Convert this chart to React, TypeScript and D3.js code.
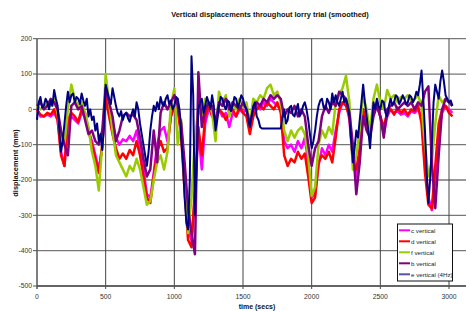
import * as d3 from 'd3'

// c, d, f, b: one sample every 25 s; e (4Hz) read at 12.5 s
const times: number[] = d3.range(0, 3026, 25)
const eTimes: number[] = d3.range(0, 3026, 12.5)

const cVertical: number[] = [
  0, -20, -20, -15, -20, -10, -30, -120, -160, -40,
  -20, -30, -40, -10, -20, -60, -90, -130, -170, -110,
  40, -10, -40, -80, -100, -85, -90, -75, -90, -60,
  -110, -170, -240, -250, -180, -100, -60, -50, -90, -20,
  10, 0, -60, -200, -340, -370, -250, -60, -170, -40,
  0, -10, -40, 0, -20, -10, -50, -10, -20, 0,
  -10, 0, -50, -10, 10, 0, 20, 10, 30, 20,
  10, 0, -90, -110, -100, -120, -90, -110, -80, -150,
  -250, -240, -160, -110, -130, -100, -120, -60, -10, 20,
  20, -30, -150, -190, -120, -10, -30, -60, 0, 10,
  -20, -70, -20, 0, -10, -5, -15, -10, -20, -5,
  -10, 0, -20, -150, -250, -285, -200, -60, -10, 10,
  0, -10,
]

const dVertical: number[] = [
  0, -15, -20, -10, -15, 0, -30, -130, -160, -30,
  -10, -20, -35, 0, -10, -60, -100, -140, -180, -100,
  30, -20, -70, -110, -140, -125, -140, -115, -130, -90,
  -130, -190, -250, -265, -190, -120, -90, -120, -110, -20,
  10, 0, -80, -230, -370, -390, -220, -50, -130, -20,
  10, -20, -30, 0, -10, -30, -10, 0, -20, 10,
  -10, -20, -70, -20, 0, 10, 0, 20, 10, 0,
  20, -10, -130, -160, -140, -150, -120, -140, -125, -190,
  -265, -250, -150, -130, -140, -120, -150, -80, 0, 20,
  10, -20, -140, -170, -110, 0, -40, -60, -10, 20,
  -20, -50, -10, 0, -15, 5, -10, 0, -15, 0,
  -5, 10, -40, -180, -270, -280, -160, -40, 0, 10,
  -10, -20,
]

const fVertical: number[] = [
  10, 0, 5, 20, 10, 30, -10, -90, -100, 0,
  70, 30, 10, 20, -10, -50, -120, -160, -230, -100,
  100, 20, -60, -130, -150, -170, -190, -160, -175, -140,
  -170, -220, -270, -260, -200, -150, -130, -170, -120, 10,
  60, -100, -30, -210, -350, -250, -80, 0, -20, 30,
  20, -10, -90, 50, 20, 40, -20, 20, 0, 30,
  10, 20, -40, 30, 20, 40, 30, 60, 70, 40,
  50, 20, -60, -90, -60, -80, -60, -50, -70, -130,
  -245, -220, -100, -60, -80, -50, -70, 20, 40, 60,
  95, 20, -170, -130, -60, 40, 0, -60, 30, 70,
  20, 0, 55, 30, 40, 20, 35, 30, 40, 25,
  30, 40, 10, -100, -190, -150, -40, 40, 20, 30,
  20, 10,
]

const bVertical: number[] = [
  10, 20, 0, 10, 30, 20, 0, -60, -100, -130,
  10, 20, 0, 10, -30, -70, -60, -90, -100, -60,
  60, 20, -20, -90, -60, -20, -10, -20, -15, -30,
  -80, -140, -190, -170, -60, -150, -10, 20, 0, 20,
  40, 10, -40, -150, -280, -350, -410, 105, -50, 0,
  20, 10, -40, 20, 10, 30, 0, 20, 10, 0,
  20, 0, -40, 0, 20, 10, 30, 20, 40, 30,
  40, 30, -20, 0, -10, 10, -20, 0, -20, -100,
  -160, -110, -90, -20, 10, -10, 20, 10, 50, 40,
  30, -10, -100, -240, -150, -20, -60, -80, -20, 10,
  -20, -80, 0, 10, 20, 0, 10, 20, 10, 20,
  0, 20, 10, 50, 65, -150, -280, -130, 0, 30,
  20, 10,
]

const eVertical: number[] = [
  -30, 20, 35, 5, 10, 30, 20, 0, 25, 10, 55, 30, 10, -60, -120, -90, -40, 10, 50, 20,
  40, 45, 20, 35, 30, 15, 45, 25, 10, 30, -20, 0, -30, -20, -60, -40, -90, -70, -115, -50,
  70, 50, 30, 15, 60, 35, 10, -10, -20, -5, -30, -15, -10, -25, -35, -15, 0, -20, 20, 0,
  -40, -70, -100, -130, -160, -120, -60, -20, 10, -5, 20, 0, 35, 15, 10, 30, 40, 15, 25, 0,
  10, 35, 30, 0, -80, -150, -250, -320, -340, -200, 150, 40, -300, -150, 0, 20, 30, -10, 10, 35,
  20, 0, 40, 10, -60, -30, 10, 35, 30, 10, 0, 25, 20, -5, 10, 35, 30, 5, 20, 40,
  30, 10, 0, -25, -50, -20, 10, 20, -20, -30, -50, -54, -54, -54, -54, -54, -54, -54, -54, -54,
  -54, -54, -54, -20, 0, -40, -30, 5, 10, -15, -20, 0, 15, -20, -10, 10, 20, 0, -30, -70,
  -110, -90, -60, -20, 10, 25, 30, 5, 0, 30, 20, 0, 45, 20, 40, 20, 10, 30, 50, 20,
  30, 10, -20, -90, -150, -110, -60, -80, -30, 20, 70, 20, -20, -60, -110, -40, 20, 0, 30, 10,
  0, 25, 20, -10, -20, 10, 30, 10, 20, 40, 35, 15, 25, 40, 30, 15, 20, 40, 35, 20,
  30, 50, 40, 70, 110, 30, -60, -180, -265, -200, -100, 20, 70, 50, 30, 80, 110, 80, 40, 30,
  20, 25, 10,
]

const seriesNames = ['c vertical', 'd vertical', 'f vertical', 'b vertical', 'e vertical (4Hz)']
const seriesColors = ['#ff00ff', '#ff0000', '#99cc00', '#800080', '#000080']
const seriesValues = [cVertical, dVertical, fVertical, bVertical, eVertical]
const seriesTimes = [times, times, times, times, eTimes]

const xTicks = [0, 500, 1000, 1500, 2000, 2500, 3000]
const yTicks = [200, 100, 0, -100, -200, -300, -400, -500]

const W = 469
const H = 311
const left = 37
const top = 38.7
const bottom = 286
const right = 466
const font = 'Arial, "Liberation Sans", sans-serif'

export default function App() {
  const x = d3.scaleLinear().domain([0, 3000]).range([left, 449])
  const y = d3.scaleLinear().domain([-500, 200]).range([bottom, top])

  const pathFor = (vals: number[], ts: number[]) =>
    d3.line<number>()
      .x((_, i) => x(ts[i]))
      .y(d => y(d))(vals) ?? ''

  return (
    <div style={{ position: 'absolute', left: 0, top: 0 }}>
      <svg width={W} height={H} style={{ display: 'block', background: '#fff' }}>
        <text x={270} y={17} textAnchor='middle' fontFamily={font} fontSize={7.4} fontWeight='bold' fill='#111'>
          Vertical displacements throughout lorry trial (smoothed)
        </text>

        {/* grid */}
        {yTicks.map(t => (
          <line key={'gy' + t} x1={left} x2={right} y1={y(t)} y2={y(t)} stroke='#777' strokeWidth={1.3} />
        ))}
        {xTicks.filter(t => t > 0).map(t => (
          <line key={'gx' + t} x1={x(t)} x2={x(t)} y1={top} y2={bottom + 3} stroke='#444' strokeWidth={1} />
        ))}

        {/* axes */}
        <line x1={left} x2={left} y1={top} y2={bottom + 3} stroke='#555' strokeWidth={1.5} />
        <line x1={left} x2={right} y1={bottom} y2={bottom} stroke='#555' strokeWidth={1.5} />
        {yTicks.map(t => (
          <g key={'ty' + t}>
            <line x1={left - 4} x2={left} y1={y(t)} y2={y(t)} stroke='#555' />
            <text x={32} y={y(t) + 2.4} textAnchor='end' fontFamily={font} fontSize={6.8} fill='#333'>{t}</text>
          </g>
        ))}
        {xTicks.map(t => (
          <text key={'tx' + t} x={x(t)} y={299} textAnchor='middle' fontFamily={font} fontSize={6.8} fill='#333'>{t}</text>
        ))}
        <text x={257} y={309} textAnchor='middle' fontFamily={font} fontSize={7} fontWeight='bold' fill='#111'>time (secs)</text>
        <text transform={`translate(18,163) rotate(-90)`} textAnchor='middle' fontFamily={font} fontSize={7.4} fontWeight='bold' fill='#111'>
          displacement (mm)
        </text>

        {/* series */}
        {seriesValues.map((vals, i) => (
          <path key={seriesNames[i]} d={pathFor(vals, seriesTimes[i])} fill='none' stroke={seriesColors[i]}
            strokeWidth={i === 4 ? 2 : 2.5} strokeLinejoin='round' />
        ))}

        {/* legend */}
        <g>
          <rect x={397.5} y={224} width={55} height={57} fill='#fff' stroke='#111' strokeWidth={1} />
          {seriesNames.map((name, i) => {
            const ly = 230.3 + i * 11
            return (
              <g key={'lg' + name}>
                <line x1={399} x2={410} y1={ly} y2={ly} stroke={i === 4 ? '#5555aa' : seriesColors[i]} strokeWidth={2} />
                <text x={411} y={ly + 2.2} fontFamily={font} fontSize={6.2} fill='#222'>{name}</text>
              </g>
            )
          })}
        </g>
      </svg>
    </div>
  )
}
